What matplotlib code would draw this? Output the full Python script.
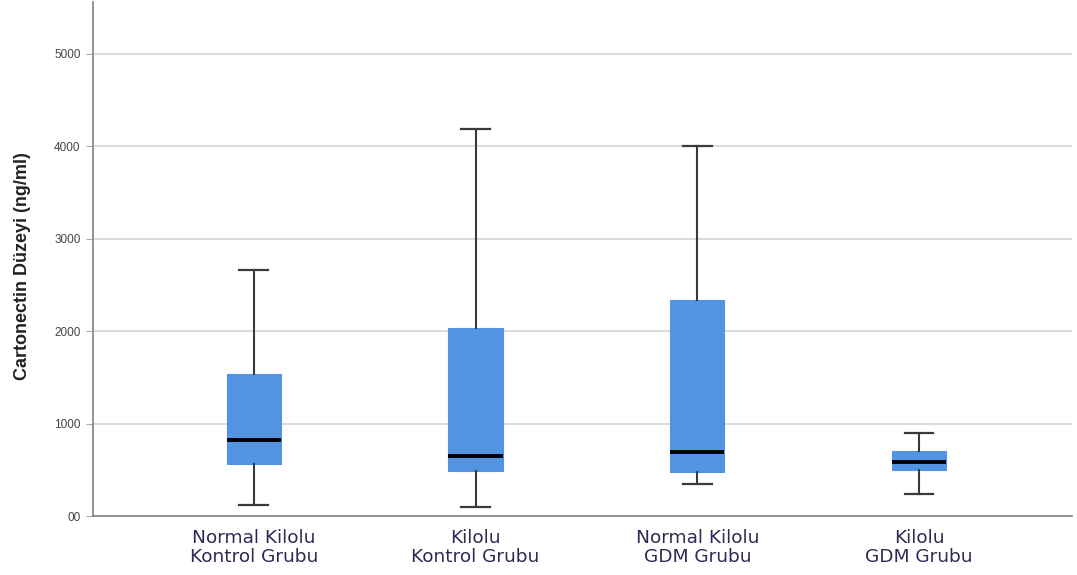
import matplotlib
matplotlib.use("Agg")
import matplotlib.pyplot as plt

# Group labels
groups = ["Normal Kilolu\nKontrol Grubu", "Kilolu\nKontrol Grubu",
          "Normal Kilolu\nGDM Grubu", "Kilolu\nGDM Grubu"]

# Five-number summaries (ng/ml)
whisker_low = [118, 97, 345, 237]
q1 = [560, 485, 474, 496]
median = [819, 647, 690, 582]
q3 = [1541, 2037, 2338, 700]
whisker_high = [2662, 4181, 3998, 894]

y_ticks = [0, 1000, 2000, 3000, 4000, 5000]
y_tick_labels = ["00", "1000", "2000", "3000", "4000", "5000"]

box_color = "#5294E2"

fig = plt.figure(figsize=(10.77, 5.75), dpi=100)
ax = fig.add_axes([0.0864, 0.1026, 0.909, 0.894])

stats = []
for i in range(len(groups)):
    stats.append(dict(whislo=whisker_low[i], q1=q1[i], med=median[i],
                      q3=q3[i], whishi=whisker_high[i], fliers=[], label=groups[i]))

positions = [1, 2, 3, 4]
ax.bxp(stats, positions=positions, widths=0.245, patch_artist=True,
       showfliers=False,
       boxprops=dict(facecolor=box_color, edgecolor=box_color, linewidth=0.8),
       medianprops=dict(color="black", linewidth=2.8),
       whiskerprops=dict(color="#3a3a3a", linewidth=1.5),
       capprops=dict(color="#3a3a3a", linewidth=1.6),
       capwidths=0.13, zorder=3)

ax.set_xlim(0.275, 4.69)
ax.set_ylim(0, 5560)

ax.set_yticks(y_ticks)
ax.set_yticklabels(y_tick_labels, fontsize=8.5, color="#444444",
                   family="Liberation Sans")
ax.tick_params(axis="y", length=5, color="#aaaaaa", pad=4)
ax.tick_params(axis="x", length=0, pad=9)
ax.set_xticks(positions)
ax.set_xticklabels(groups, fontsize=13.3, color="#2b2b55", linespacing=1.1,
                   family="DejaVu Sans")

ax.yaxis.grid(True, color="#d4d4d4", linewidth=1.2, zorder=0)
ax.set_axisbelow(True)

for side in ["top", "right"]:
    ax.spines[side].set_visible(False)
for side in ["left", "bottom"]:
    ax.spines[side].set_color("#8a8a8a")
    ax.spines[side].set_linewidth(1.3)

ax.set_ylabel("Cartonectin Düzeyi (ng/ml)", fontsize=13, fontweight="bold",
              color="#222222", family="Liberation Sans")
ax.yaxis.set_label_coords(-0.063, 0.486)

fig.savefig("out.png", dpi=100, facecolor="white")
